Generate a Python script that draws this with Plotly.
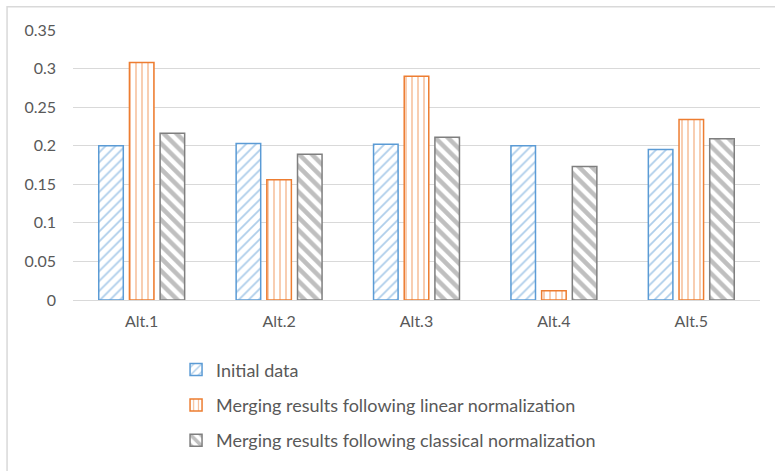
import plotly.graph_objects as go

# Alternatives and the three sets of scores
alternatives = ["Alt.1", "Alt.2", "Alt.3", "Alt.4", "Alt.5"]
initial_data = [0.200, 0.203, 0.202, 0.200, 0.195]
linear_norm = [0.308, 0.156, 0.290, 0.012, 0.234]
classical_norm = [0.216, 0.189, 0.211, 0.173, 0.209]

series_names = [
    "Initial data",
    "Merging results following linear normalization",
    "Merging results following classical normalization",
]
y_ticks = [0, 0.05, 0.1, 0.15, 0.2, 0.25, 0.3, 0.35]
y_tick_text = ["0", "0.05", "0.1", "0.15", "0.2", "0.25", "0.3", "0.35"]

FONT = "Lato, 'Open Sans', sans-serif"
TEXT = "#595959"

styles = [
    dict(color="#5b9bd5", shape="/", size=7, solidity=0.25),
    dict(color="#ed7d31", shape="|", size=6, solidity=0.25),
    dict(color="#7f7f7f", shape="\\", size=9, solidity=0.5),
]

fig = go.Figure()
for name, vals, st, grp in zip(series_names, [initial_data, linear_norm, classical_norm], styles, ["a", "b", "c"]):
    fig.add_trace(go.Bar(
        x=alternatives,
        y=vals,
        name=name,
        legendgroup=grp,
        marker=dict(
            color="white",
            line=dict(color=st["color"], width=1.5),
            pattern=dict(shape=st["shape"], fgcolor=st["color"], bgcolor="white",
                         size=st["size"], solidity=st["solidity"], fillmode="overlay"),
        ),
    ))

fig.update_layout(
    width=775,
    height=471,
    margin=dict(l=73, r=15, t=30, b=168),
    paper_bgcolor="white",
    plot_bgcolor="white",
    barmode="group",
    bargap=0.33,
    bargroupgap=0.2,
    font=dict(family=FONT, size=16, color=TEXT),
    xaxis=dict(
        showgrid=False,
        showline=False,
        ticks="",
        ticklabelstandoff=10,
        tickfont=dict(family=FONT, size=16, color=TEXT),
    ),
    yaxis=dict(
        range=[0, 0.35],
        tickvals=y_ticks,
        ticktext=y_tick_text,
        showgrid=True,
        gridcolor="#d9d9d9",
        gridwidth=1,
        zeroline=True,
        zerolinecolor="#d9d9d9",
        zerolinewidth=1,
        showline=False,
        ticks="",
        ticklabelstandoff=16,
        tickfont=dict(family=FONT, size=16, color=TEXT),
    ),
    legend=dict(
        orientation="v",
        x=0.15,
        y=-0.19,
        xanchor="left",
        yanchor="top",
        tracegroupgap=9,
        font=dict(family=FONT, size=18, color=TEXT),
        itemwidth=30,
        bgcolor="rgba(0,0,0,0)",
    ),
    showlegend=True,
    shapes=[
        dict(type="rect", xref="paper", yref="paper",
             x0=-0.096, x1=1.03, y0=-0.65, y1=1.086,
             line=dict(color="#d9d9d9", width=1.5), fillcolor="rgba(0,0,0,0)",
             layer="below"),
    ],
)

fig.write_html("out.html")
